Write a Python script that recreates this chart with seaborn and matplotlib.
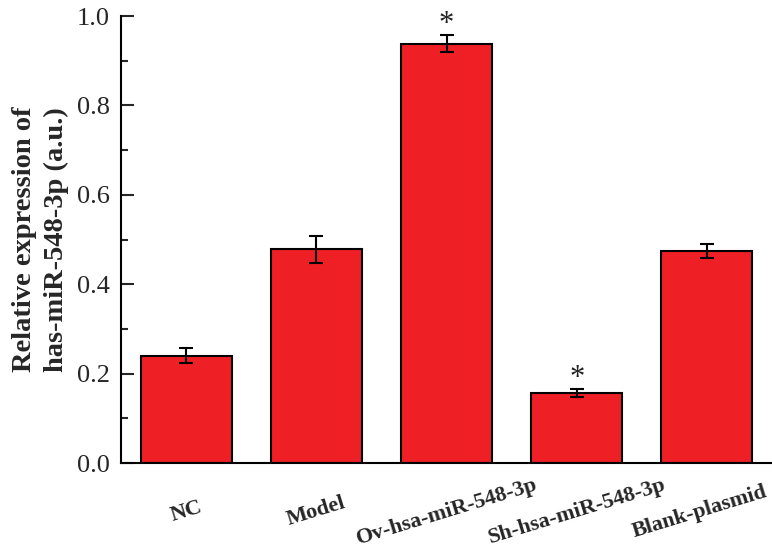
import matplotlib
matplotlib.use('Agg')
import matplotlib.pyplot as plt
import seaborn as sns
import numpy as np
import pandas as pd
from matplotlib.ticker import MultipleLocator, FormatStrFormatter
from matplotlib.transforms import ScaledTranslation

groups = ['NC', 'Model', 'Ov-hsa-miR-548-3p', 'Sh-hsa-miR-548-3p', 'Blank-plasmid']
values = [0.240, 0.478, 0.938, 0.157, 0.474]
errors = [0.017, 0.031, 0.019, 0.008, 0.016]
stars = ['', '', '*', '*', '']

sns.set_theme(style='ticks')
plt.rcParams['font.family'] = ['Liberation Serif', 'DejaVu Serif']

df = pd.DataFrame({'group': groups, 'value': values})

fig = plt.figure(figsize=(7.72, 5.54), dpi=100)
ax = fig.add_axes([0.157, 0.164, 0.843, 0.807])

sns.barplot(data=df, x='group', y='value', color='#EE1F25', saturation=1,
            width=0.7, edgecolor='black', linewidth=1.5, errorbar=None, ax=ax)
xpos = np.arange(len(groups))
ax.errorbar(xpos, values, yerr=errors, fmt='none', ecolor='black',
            elinewidth=1.5, capsize=5, capthick=1.5)
# significance marks
for x, v, e, s in zip(xpos, values, errors, stars):
    if s:
        ax.text(x, v + e - 0.008, s, ha='center', va='bottom', fontsize=22, color='#222222')

ax.set_xlim(-0.5, 4.5)
ax.set_ylim(0, 1.0)
ax.yaxis.set_major_locator(MultipleLocator(0.2))
ax.yaxis.set_minor_locator(MultipleLocator(0.1))
ax.yaxis.set_major_formatter(FormatStrFormatter('%.1f'))
ax.tick_params(axis='y', which='major', direction='in', length=9, width=1.5, labelsize=19, pad=8)
ax.tick_params(axis='y', which='minor', direction='in', length=5, width=1.5)
ax.tick_params(axis='x', direction='in', length=8, width=1.5, pad=35)
ax.set_xticks(xpos)
ax.set_xticklabels(groups, rotation=17, ha='center', va='center',
                   rotation_mode='anchor', fontweight='bold', fontsize=16)
# nudge the last label so it stays inside the canvas
last = ax.get_xticklabels()[-1]
last.set_transform(last.get_transform() + ScaledTranslation(-5 / 72, 0, fig.dpi_scale_trans))
ax.set_xlabel('')
ax.set_ylabel('Relative expression of\nhas-miR-548-3p (a.u.)', fontsize=20.5,
              fontweight='bold', labelpad=6, linespacing=1.35)
for side in ['top', 'right']:
    ax.spines[side].set_visible(False)
for side in ['left', 'bottom']:
    ax.spines[side].set_linewidth(1.5)
    ax.spines[side].set_color('black')

fig.savefig('out.png', dpi=100)
